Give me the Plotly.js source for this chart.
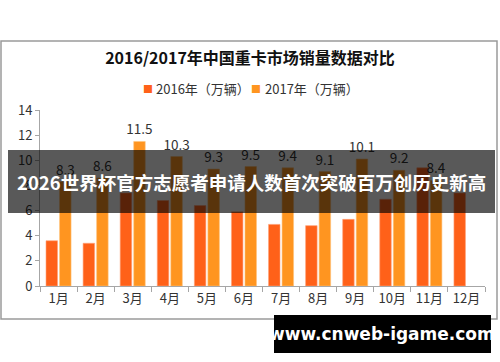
<!DOCTYPE html>
<html>
<head>
<meta charset="utf-8">
<script src="https://cdn.plot.ly/plotly-3.0.1.min.js"></script>
<style>html,body{margin:0;padding:0;background:#fff;}#chart{width:500px;height:362px;}</style>
</head>
<body>
<div id="chart"></div>
<script>
const months = ["1月","2月","3月","4月","5月","6月","7月","8月","9月","10月","11月","12月"];
const sales2016 = [3.6,3.4,7.4,6.8,6.4,5.9,4.9,4.8,5.3,6.9,9.4,7.4];
const sales2017 = [8.3,8.6,11.5,10.3,9.3,9.5,9.4,9.1,10.1,9.2,8.4,null];
const yTicks = [0,2,4,6,8,10,12,14];
const chartTitle = "2016/2017年中国重卡市场销量数据对比";
const name2016 = "2016年（万辆）";
const name2017 = "2017年（万辆）";
const bannerText = "2026世界杯官方志愿者申请人数首次突破百万创历史新高";
const siteText = "www.cnweb-igame.com";
const color2016 = '#FF6119';
const color2017 = '#FF9520';

const FONT = '"Noto Sans CJK SC", "Microsoft YaHei", sans-serif';
const M = {l:40, r:15, t:110, b:76};
const PW = 500 - M.l - M.r, PH = 362 - M.t - M.b;
const px = v => (v - M.l) / PW;
const py = v => (362 - M.b - v) / PH;

const traces = [
  {type:'bar', name:name2016, x:months, y:sales2016,
   marker:{color:color2016, line:{color:'#FFA27A', width:0.6}}, hoverinfo:'none'},
  {type:'bar', name:name2017, x:months, y:sales2017,
   marker:{color:color2017, line:{color:'#FFC27A', width:0.6}},
   text:sales2017.map(v => v==null ? '' : v.toFixed(1)), textposition:'outside', constraintext:'none',
   textfont:{size:13.5, color:'#333', family:FONT}, cliponaxis:false, hoverinfo:'none'}
];

const legendY = py(88);
const layout = {
  width:500, height:362, margin:M,
  paper_bgcolor:'#fff', plot_bgcolor:'#fff',
  font:{family:FONT, size:13, color:'#333'},
  barmode:'group', bargap:0.27, bargroupgap:0.15,
  title:{text:chartTitle, x:0.5, xref:'container', xanchor:'center', y:1-58/362, yref:'container', yanchor:'middle',
         font:{size:16, color:'#111', family:FONT, weight:'bold'}},
  showlegend:false,
  xaxis:{type:'category', showline:true, linecolor:'#A6A6A6', linewidth:1, ticks:'outside', tickson:'boundaries',
         ticklen:5, tickcolor:'#A6A6A6', showgrid:false, tickfont:{size:13, color:'#333'}, zeroline:false, fixedrange:true},
  yaxis:{range:[0,14], tickvals:yTicks, showline:true, linecolor:'#A6A6A6', linewidth:1, ticks:'outside', ticklen:4,
         tickcolor:'#A6A6A6', showgrid:false, zeroline:false, tickfont:{size:13, color:'#333'}, fixedrange:true},
  shapes:[
    {type:'rect', xref:'paper', yref:'paper', x0:px(1), x1:px(497), y0:py(319), y1:py(41),
     line:{color:'#9A9A9A', width:1.5}, fillcolor:'rgba(0,0,0,0)', layer:'below'},
    {type:'rect', xref:'paper', yref:'paper', x0:px(8), x1:px(495), y0:py(213), y1:py(150),
     line:{width:0}, fillcolor:'rgba(0,0,0,0.65)', layer:'above'},
    {type:'rect', xref:'paper', yref:'paper', x0:px(274), x1:px(491), y0:py(353), y1:py(315),
     line:{width:0}, fillcolor:'#000', layer:'above'}
  ],
  annotations:[
    {text:'■', xref:'paper', yref:'paper', x:px(147.5), y:legendY, xanchor:'center', yanchor:'middle',
     showarrow:false, font:{size:10, color:color2016}},
    {text:name2016, xref:'paper', yref:'paper', x:px(154), y:legendY, xanchor:'left', yanchor:'middle',
     showarrow:false, font:{size:13, color:'#333', family:FONT}},
    {text:'■', xref:'paper', yref:'paper', x:px(256), y:legendY, xanchor:'center', yanchor:'middle',
     showarrow:false, font:{size:10, color:color2017}},
    {text:name2017, xref:'paper', yref:'paper', x:px(263), y:legendY, xanchor:'left', yanchor:'middle',
     showarrow:false, font:{size:13, color:'#333', family:FONT}},
    {text:bannerText, xref:'paper', yref:'paper', x:px(251), y:py(182), xanchor:'center', yanchor:'middle',
     showarrow:false, font:{size:18.5, color:'#fff', family:FONT, weight:'bold'}},
    {text:siteText, xref:'paper', yref:'paper', x:px(382), y:py(334), xanchor:'center', yanchor:'middle',
     showarrow:false, font:{size:17, color:'#fff', family:'"DejaVu Sans", sans-serif', weight:'bold'}}
  ]
};

Plotly.newPlot('chart', traces, layout, {staticPlot:true, displayModeBar:false});
</script>
</body>
</html>
